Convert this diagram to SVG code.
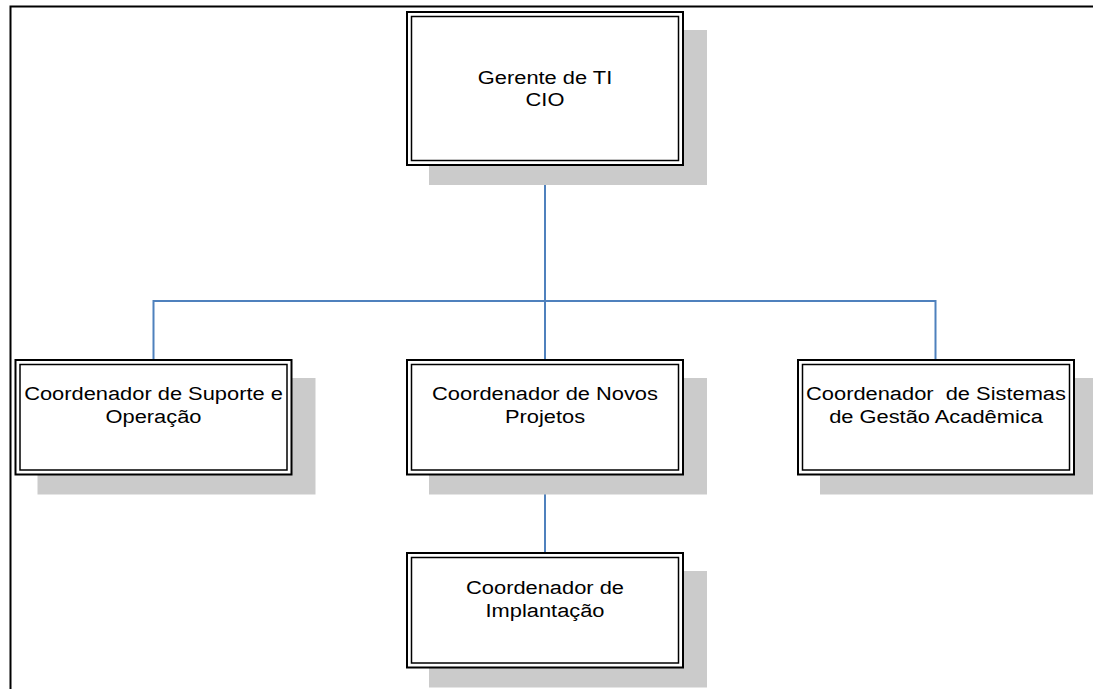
<svg xmlns="http://www.w3.org/2000/svg" width="1093" height="689" viewBox="0 0 1093 689">
  <style>
    .frame { stroke: #000; stroke-width: 2; fill: none; }
    .shadow { fill: #cbcbcb; }
    .outer { fill: #fff; stroke: #000; stroke-width: 2; }
    .inner { fill: none; stroke: #000; stroke-width: 1.5; }
    .link { stroke: #4f81bd; stroke-width: 2; fill: none; }
    .label { font-family: "Liberation Sans", Arial, sans-serif; font-size: 19px; fill: #000; text-anchor: middle; }
  </style>
  <defs>
    <!-- node body: drop shadow, outer frame, inner frame (278 x 116.5) -->
    <g id="box-small">
      <rect class="shadow" x="23" y="19" width="278" height="116.5"/>
      <rect class="outer" x="1" y="1" width="276" height="114.5"/>
      <rect class="inner" x="5.5" y="5.5" width="267" height="105.5"/>
    </g>
  </defs>

  <rect width="1093" height="689" fill="#fff"/>

  <!-- page frame (top and left edges) -->
  <path class="frame" d="M10.5 689 V6.5 H1093"/>

  <!-- connectors -->
  <g id="connectors">
    <path class="link" d="M545 166 V359"/>
    <path class="link" d="M153.5 359 V301 H935.5 V359"/>
    <path class="link" d="M545 476 V552"/>
  </g>

  <!-- top: manager -->
  <g id="node-gerente">
    <rect class="shadow" x="429" y="30" width="278" height="155"/>
    <rect class="outer" x="407" y="12" width="276" height="153"/>
    <rect class="inner" x="411.5" y="16.5" width="267" height="144"/>
    <text class="label" transform="translate(545 84) scale(1.15 1)"><tspan x="0" y="0">Gerente de TI</tspan><tspan x="0" y="22.5">CIO</tspan></text>
  </g>

  <g id="node-suporte">
    <use href="#box-small" x="14.5" y="359"/>
    <text class="label" transform="translate(153.5 400) scale(1.15 1)"><tspan x="0" y="0">Coordenador de Suporte e</tspan><tspan x="0" y="23">Operação</tspan></text>
  </g>

  <g id="node-novos">
    <use href="#box-small" x="406" y="359"/>
    <text class="label" transform="translate(545 400) scale(1.15 1)"><tspan x="0" y="0">Coordenador de Novos</tspan><tspan x="0" y="23">Projetos</tspan></text>
  </g>

  <g id="node-sistemas">
    <use href="#box-small" x="797" y="359"/>
    <text class="label" transform="translate(936 400) scale(1.15 1)"><tspan x="0" y="0" xml:space="preserve">Coordenador  de Sistemas</tspan><tspan x="0" y="23">de Gestão Acadêmica</tspan></text>
  </g>

  <g id="node-implantacao">
    <use href="#box-small" x="406" y="552"/>
    <text class="label" transform="translate(545 594) scale(1.15 1)"><tspan x="0" y="0">Coordenador de</tspan><tspan x="0" y="23">Implantação</tspan></text>
  </g>
</svg>
